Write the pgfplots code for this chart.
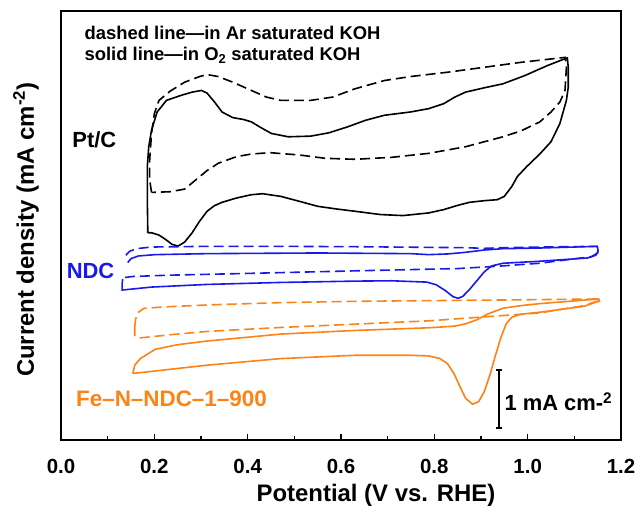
\documentclass[border=0pt]{standalone}
\usepackage{fontspec}
\setmainfont{Liberation Sans}
\usepackage{pgfplots}
\pgfplotsset{compat=1.18}
\definecolor{ndcblue}{RGB}{25,25,235}
\definecolor{feorange}{RGB}{255,130,20}
\begin{document}
\begin{tikzpicture}
\begin{axis}[
  scale only axis, width=560bp, height=429bp,
  xmin=0, xmax=1.2, ymin=30, ymax=1326, y dir=reverse,
  axis line style={line width=1.2bp},
  xtick={0,0.2,...,1.2}, minor xtick={0.1,0.3,...,1.1},
  xtick pos=bottom, ytick=\empty, tick align=inside,
  major tick length=6bp, minor tick length=4bp,
  every tick/.style={line width=1.2bp, black},
  tick label style={font=\fontsize{20.5}{24}\selectfont\bfseries},
  xticklabel style={anchor=center, yshift=-26bp},
  x tick label style={/pgf/number format/fixed, /pgf/number format/fixed zerofill, /pgf/number format/precision=1, /pgf/number format/assume math mode=true},
  xlabel={Potential (V vs. RHE)},
  ylabel={Current density (mA cm\textsuperscript{-2})},
  xlabel style={font=\fontsize{24}{28}\selectfont\bfseries, at={(axis description cs:0.5625,-0.128)}, anchor=center},
  ylabel style={font=\fontsize{24}{28}\selectfont\bfseries, at={(axis description cs:-0.0625,0.49)}, anchor=center},
  clip=false,
]
% Pt/C, Ar (dashed)
\addplot[black, line width=1.6bp, dash pattern=on 10bp off 5bp] coordinates {
(0.194,578) (0.190,540) (0.190,480) (0.194,400) (0.200,340) (0.210,300) (0.234,272)
(0.265,245) (0.297,228) (0.313,222) (0.337,228) (0.368,245) (0.408,270) (0.440,290)
(0.471,300) (0.535,300) (0.582,290) (0.630,265) (0.693,240) (0.749,228) (0.828,215)
(0.907,200) (0.986,185) (1.081,170) (1.083,200) (1.080,270) (1.069,305) (1.050,335)
(1.026,365) (0.986,392) (0.947,410) (0.867,440) (0.788,460) (0.709,472) (0.630,478)
(0.566,475) (0.511,465) (0.448,458) (0.408,462) (0.376,470) (0.337,490) (0.313,512)
(0.289,540) (0.265,568) (0.234,576) (0.194,578)};
% Pt/C, O2 (solid)
\addplot[black, line width=1.6bp] coordinates {
(0.186,700) (0.185,600) (0.185,500) (0.188,440) (0.194,390) (0.206,335) (0.226,300)
(0.257,285) (0.281,275) (0.301,270) (0.313,278) (0.329,305) (0.345,335) (0.368,352)
(0.392,358) (0.408,365) (0.428,382) (0.451,400) (0.487,410) (0.535,408) (0.574,398)
(0.614,380) (0.653,360) (0.693,345) (0.749,335) (0.788,325) (0.820,310) (0.844,290)
(0.867,275) (0.907,262) (0.947,250) (0.994,225) (1.042,195) (1.073,178) (1.085,172)
(1.087,200) (1.087,260) (1.083,300) (1.069,370) (1.050,425) (1.026,462) (0.998,500)
(0.978,530) (0.966,560) (0.950,590) (0.935,600) (0.907,603) (0.875,608) (0.848,618)
(0.820,630) (0.788,640) (0.733,648) (0.685,645) (0.630,635) (0.590,628) (0.550,620)
(0.511,605) (0.471,590) (0.432,582) (0.408,585) (0.376,595) (0.345,608) (0.329,618)
(0.313,635) (0.297,665) (0.281,700) (0.265,728) (0.251,740) (0.238,735) (0.226,722)
(0.210,707) (0.194,700) (0.186,700)};
% NDC, Ar (dashed)
\addplot[ndcblue, line width=1.6bp, dash pattern=on 10bp off 5bp] coordinates {
(0.139,768) (0.147,756) (0.162,748) (0.194,743) (0.313,741) (0.471,741) (0.630,742)
(0.788,744) (0.867,745) (0.907,747) (0.947,745) (1.026,743) (1.149,741) (1.151,760)
(1.137,772) (1.026,792) (0.947,800) (0.851,808) (0.630,815) (0.392,823) (0.234,828)
(0.154,832) (0.137,835)};
% NDC, O2 (solid)
\addplot[ndcblue, line width=1.6bp] coordinates {
(0.143,790) (0.150,778) (0.166,770) (0.202,766) (0.313,763) (0.550,761) (0.749,763)
(0.788,766) (0.828,764) (0.867,759) (0.907,752) (0.947,748) (1.026,746) (1.149,741)
(1.151,755) (1.146,768) (1.129,776) (1.026,786) (0.947,792) (0.923,800) (0.907,818)
(0.891,845) (0.875,872) (0.861,892) (0.851,898) (0.840,893) (0.824,875) (0.804,857)
(0.784,849) (0.709,845) (0.630,846) (0.471,850) (0.313,856) (0.194,864) (0.131,873)
(0.131,855) (0.132,840)};
% Fe-N-NDC-1-900, Ar (dashed)
\addplot[feorange, line width=1.6bp, dash pattern=on 10bp off 5bp] coordinates {
(0.158,985) (0.160,960) (0.166,940) (0.178,928) (0.234,923) (0.313,918) (0.471,911)
(0.630,907) (0.788,905) (0.947,903) (1.152,900) (1.152,905) (1.121,920) (1.026,942)
(0.947,950) (0.867,958) (0.788,966) (0.630,976) (0.471,986) (0.313,998) (0.234,1008)
(0.194,1014) (0.166,1018) (0.158,1010) (0.158,985)};
% Fe-N-NDC-1-900, O2 (solid)
\addplot[feorange, line width=1.6bp] coordinates {
(0.154,1125) (0.158,1100) (0.170,1080) (0.202,1052) (0.250,1038) (0.313,1027) (0.471,1006)
(0.630,995) (0.788,987) (0.844,982) (0.867,975) (0.891,963) (0.915,945) (0.947,928)
(0.986,920) (1.026,914) (1.152,900) (1.154,906) (1.121,922) (1.026,940) (0.986,946)
(0.966,955) (0.954,975) (0.943,1015) (0.931,1070) (0.919,1130) (0.907,1180) (0.895,1210)
(0.882,1218) (0.867,1200) (0.855,1165) (0.842,1125) (0.828,1095) (0.812,1080) (0.788,1072)
(0.749,1070) (0.630,1070) (0.471,1080) (0.313,1100) (0.154,1125)};
% scale bar
\draw[black, line width=1.6bp] (axis cs:0.9386,1115) -- (axis cs:0.9386,1290);
\draw[black, line width=1.6bp] (axis cs:0.932,1115) -- (axis cs:0.945,1115);
\draw[black, line width=1.6bp] (axis cs:0.932,1290) -- (axis cs:0.945,1290);
\node[anchor=west, inner sep=0pt, font=\fontsize{22}{26}\selectfont\bfseries] at (axis cs:0.950,1210) {1 mA cm-\textsuperscript{2}};
% annotations
\node[anchor=west, inner sep=0pt, font=\fontsize{18.5}{22}\selectfont\bfseries] at (axis cs:0.050,95) {dashed line—in Ar saturated KOH};
\node[anchor=west, inner sep=0pt, font=\fontsize{18.5}{22}\selectfont\bfseries] at (axis cs:0.050,165) {solid line—in O\textsubscript{2} saturated KOH};
\node[anchor=west, inner sep=0pt, font=\fontsize{22}{26}\selectfont\bfseries] at (axis cs:0.024,420) {Pt/C};
\node[anchor=west, inner sep=0pt, text=ndcblue, font=\fontsize{22}{26}\selectfont\bfseries] at (axis cs:0.012,815) {NDC};
\node[anchor=west, inner sep=0pt, text=feorange, font=\fontsize{22.5}{26}\selectfont\bfseries] at (axis cs:0.032,1200) {Fe–N–NDC–1–900};
\end{axis}
\pgfresetboundingbox
\path ([shift={(-61bp,-75bp)}]current axis.south west) rectangle ([shift={(22bp,11bp)}]current axis.north east);
\end{tikzpicture}
\end{document}
